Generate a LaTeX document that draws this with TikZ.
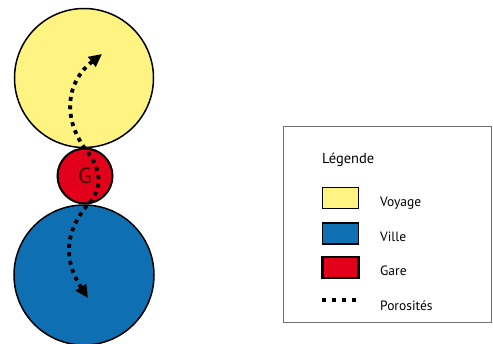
\documentclass[tikz,border=0pt]{standalone}
\usepackage{fontspec}
\setmainfont{PT Sans}
\usetikzlibrary{arrows.meta,positioning}
\definecolor{voyageYellow}{HTML}{FFF482}
\definecolor{villeBlue}{HTML}{0F6FB3}
\definecolor{gareRed}{HTML}{E2001A}
\definecolor{gareText}{HTML}{3A0606}
\definecolor{frameGray}{HTML}{707070}

\begin{document}
\begin{tikzpicture}[
  x=1pt,y=-1pt,
  zone/.style={circle,draw=black,line width=1.5pt,inner sep=0pt},
  swatch/.style={rectangle,draw=black,line width=1.5pt,minimum width=36pt,minimum height=21pt,inner sep=0pt},
  legtext/.style={anchor=base west,inner sep=0pt,font=\fontsize{13.5}{15}\selectfont},
  poro/.style={line width=3.8pt,dash pattern=on 4pt off 4.5pt,
    {Triangle[length=13pt,width=12pt]}-{Triangle[length=13pt,width=12pt]}}
]
\useasboundingbox (0,0) rectangle (493,343);
% zones
\node[zone,fill=voyageYellow,minimum size=139pt] (voyage) at (84,78) {};
\node[zone,fill=villeBlue,minimum size=140pt] (ville) at (84,275) {};
\node[zone,fill=gareRed,line width=2pt,minimum size=55pt,
  font=\fontsize{22}{24}\selectfont,text=gareText] (gare) at (85,176) {G};
% porosites
\coordinate (poroBot) at (88,298);
\coordinate (poroTop) at (102,54);
\draw[poro] (poroBot) .. controls (60,255) and (68,225) .. (92,200)
  .. controls (104,182) and (98,165) .. (86,150)
  .. controls (62,118) and (66,82) .. (poroTop);
% legende
\node[draw=frameGray,line width=1pt,minimum width=208pt,minimum height=196pt] (cadre) at (387,224) {};
\node[legtext,font=\fontsize{14.5}{16}\selectfont] (titre) at (322,163) {Légende};
\node[swatch,fill=voyageYellow] (sVoyage) at (340.5,198) {};
\node[swatch,fill=villeBlue] (sVille) at (340.5,233.5) {};
\node[swatch,fill=gareRed,line width=2.5pt] (sGare) at (340.5,267.5) {};
\coordinate (sPoroA) at (322,300);
\coordinate (sPoroB) at (358,300);
\draw[line width=4pt,dash pattern=on 4pt off 6pt] (sPoroA) -- (sPoroB);
\node[legtext] (tVoyage) at (380,206) {Voyage};
\node[legtext] (tVille) at (380,241.5) {Ville};
\node[legtext] (tGare) at (380,275) {Gare};
\node[legtext] (tPoro) at (380,310.5) {Porosités};
\end{tikzpicture}
\end{document}
